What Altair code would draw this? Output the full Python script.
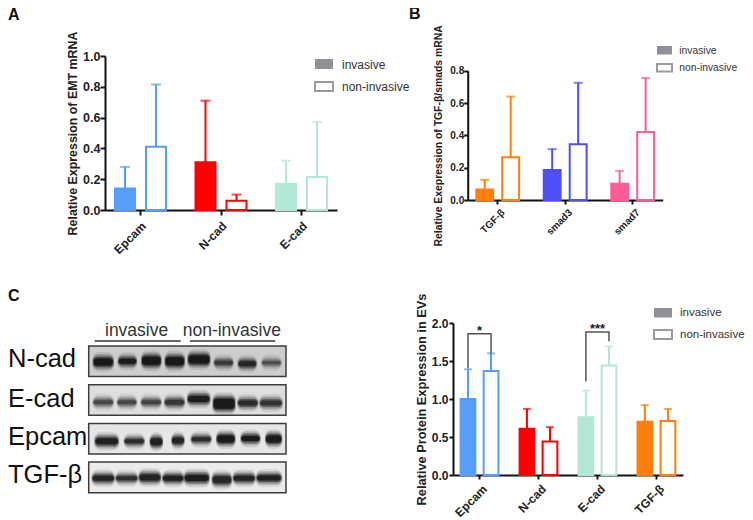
import altair as alt
import pandas as pd

FONT = "Liberation Sans"
W, H = 737, 512

# ---------- values ----------
GROUPS = ["invasive", "non-invasive"]

A_CATS = ["Epcam", "N-cad", "E-cad"]
A_COLORS = ["#559ffa", "#ff0000", "#b2e8d5"]
A_MEAN = [[0.14, 0.41], [0.31, 0.06], [0.17, 0.215]]
A_TOP = [[0.28, 0.815], [0.71, 0.10], [0.32, 0.57]]

B_CATS = ["TGF-β", "smad3", "smad7"]
B_COLORS = ["#ff7f0e", "#4f4ffa", "#ff5c98"]
B_MEAN = [[0.065, 0.265], [0.185, 0.345], [0.10, 0.42]]
B_TOP = [[0.125, 0.64], [0.315, 0.725], [0.18, 0.755]]

D_CATS = ["Epcam", "N-cad", "E-cad", "TGF-β"]
D_COLORS = ["#559ffa", "#ff0000", "#b2e8d5", "#ff7f0e"]
D_MEAN = [[1.0, 1.37], [0.61, 0.44], [0.76, 1.44], [0.70, 0.71]]
D_TOP = [[1.39, 1.60], [0.87, 0.63], [1.11, 1.69], [0.92, 0.87]]

BR1_Y = [1.40, 1.86, 1.86, 1.60]
BR2_Y = [1.23, 1.88, 1.88, 1.76]
BR_GROUP = ["invasive", "invasive", "non-invasive", "non-invasive"]

BLOT_NAMES = ["N-cad", "E-cad", "Epcam", "TGF-β"]
BLOT_BG = ["#cdcdcd", "#dedede", "#e6e6e6", "#ebebeb"]
BLOT_C = [
    [.59, 1.57, 2.54, 3.49, 4.47, 5.47, 6.43, 7.41],
    [.59, 1.55, 2.53, 3.48, 4.46, 5.49, 6.45, 7.39],
    [.73, 1.85, 2.74, 3.62, 4.56, 5.56, 6.56, 7.50],
    [.59, 1.54, 2.48, 3.42, 4.38, 5.40, 6.30, 7.31],
]
BLOT_W = [
    [.81, .74, .78, .78, .88, .77, .74, .78],
    [.81, .78, .81, .81, .90, .88, .81, .90],
    [.94, .81, .51, .51, .81, .74, .77, .65],
    [.89, .88, .88, .84, 1.0, .78, .88, 1.0],
]
BLOT_Y = [
    [.52, .50, .48, .50, .44, .55, .58, .55],
    [.57, .57, .57, .57, .47, .62, .60, .60],
    [.58, .58, .60, .56, .52, .51, .49, .51],
    [.53, .53, .50, .53, .52, .58, .53, .52],
]
BLOT_T = [
    [8, 6, 9, 9, 9, 5, 6, 4],
    [5, 5, 5, 6, 7, 11, 6, 6],
    [7, 5, 8, 7, 5, 8, 6, 8],
    [6, 5, 7, 6, 7, 8, 6, 6],
]
BLOT_D = [
    [1, .95, 1, 1, 1, .6, .8, .4],
    [.5, .5, .55, .65, .95, 1, .8, .7],
    [.95, .8, .9, .9, .8, 1, 1, 1],
    [.9, .8, .9, .95, 1, .85, .9, .95],
]


def px(v):
    return v - 8


def table(cats, colors, mean, top):
    rows = []
    for c, col, m, t in zip(cats, colors, mean, top):
        for i, g in enumerate(GROUPS):
            rows.append(dict(cat=c, group=g, mean=m[i], top=t[i], line=col,
                             fill=col if i == 0 else "#ffffff"))
    return pd.DataFrame(rows)


def bar_panel(df, cats, xr, yr, ymax, ystep, pi, bw, inner, outer, cap, title, lab, ttl,
              tpad, tick_size, lab_pad, x_lab, x_pad, x_off, extra=None):
    x0, x1 = px(xr[0]), px(xr[1])
    y0, y1 = px(yr[0]), px(yr[1])
    n = round(ymax / ystep)
    xs = alt.Scale(type="band", domain=cats, range=[x0, x1], paddingInner=pi, paddingOuter=0)
    os_ = alt.Scale(type="band", domain=GROUPS, range=[0, bw], paddingInner=inner, paddingOuter=outer)
    ys = alt.Scale(domain=[0, ymax], range=[y0, y1], nice=False, zero=True)
    xo = alt.XOffset("group:N", scale=os_)
    axis_x = alt.Axis(title=None, orient="bottom", offset=-(H - y0), labelAngle=-45,
                      labelFontSize=x_lab, labelFontWeight="bold", labelColor="#222222",
                      domainWidth=2, domainColor="#111111", tickWidth=2, tickColor="#111111",
                      tickSize=tick_size, labelPadding=x_pad, labelOffset=x_off, grid=False, labelOverlap=False)
    axis_y = alt.Axis(title=title, orient="left", offset=-x0, values=[round(i * ystep, 2) for i in range(n + 1)],
                      format=".1f", labelFontSize=lab, labelFontWeight="bold", labelColor="#222222",
                      titleFontSize=ttl, titleFontWeight="bold", titleColor="#222222", titlePadding=tpad,
                      domainWidth=2, domainColor="#111111", tickWidth=2, tickColor="#111111",
                      tickSize=tick_size, labelPadding=lab_pad, grid=False)
    base = alt.Chart(df)
    rule = base.mark_rule(strokeWidth=2).encode(
        x=alt.X("cat:N", scale=xs, axis=None), xOffset=xo,
        y=alt.Y("mean:Q", scale=ys, axis=None), y2="top:Q",
        color=alt.Color("line:N", scale=None))
    tick = base.mark_tick(size=cap, thickness=2).encode(
        x=alt.X("cat:N", scale=xs, axis=None), xOffset=xo,
        y=alt.Y("top:Q", scale=ys, axis=None),
        color=alt.Color("line:N", scale=None))
    bar = base.mark_bar(strokeWidth=2).encode(
        x=alt.X("cat:N", scale=xs, axis=axis_x), xOffset=xo,
        y=alt.Y("mean:Q", scale=ys, axis=axis_y),
        fill=alt.Fill("fill:N", scale=None),
        stroke=alt.Stroke("line:N", scale=None))
    layers = [rule, tick, bar]
    if extra:
        layers += extra(xs, xo, ys)
    return layers


def swatches(x0, x1, boxes):
    out = []
    for (a, b), filled in zip(boxes, [True, False]):
        out.append(alt.Chart(pd.DataFrame({"k": [0]})).mark_rect(
            fill="#90909a" if filled else "#ffffff", stroke="#9a9a9f", strokeWidth=0 if filled else 2
        ).encode(x=alt.value(px(x0)), x2=alt.value(px(x1)), y=alt.value(px(a)), y2=alt.value(px(b))))
    return out


def label(text, x, y, size, weight="normal", color="#333333", baseline="middle", align="left"):
    return alt.Chart(pd.DataFrame({"k": [0]})).mark_text(
        text=text, fontSize=size, fontWeight=weight, color=color, baseline=baseline, align=align
    ).encode(x=alt.value(max(px(x), 0)), y=alt.value(px(y)))


def brackets(xs, xo, ys):
    rows = []
    for cat, levels, key in (("Epcam", BR1_Y, "a"), ("E-cad", BR2_Y, "b")):
        for i, (g, v) in enumerate(zip(BR_GROUP, levels)):
            rows.append(dict(cat=cat, group=g, v=v, i=i, key=key))
    br = alt.Chart(pd.DataFrame(rows)).mark_line(color="#555555", strokeWidth=1.5).encode(
        x=alt.X("cat:N", scale=xs, axis=None), xOffset=xo,
        y=alt.Y("v:Q", scale=ys, axis=None), order="i:O", detail="key:N")
    stars = alt.Chart(pd.DataFrame({"cat": ["Epcam", "E-cad"], "v": [1.86, 1.88], "s": ["*", "***"]})).mark_text(
        fontSize=13, fontWeight="bold", color="#222222", baseline="alphabetic", dy=1
    ).encode(x=alt.X("cat:N", scale=xs, axis=None), y=alt.Y("v:Q", scale=ys, axis=None), text="s:N")
    return [br, stars]


panel_a = bar_panel(table(A_CATS, A_COLORS, A_MEAN, A_TOP), A_CATS, (105, 337), (210, 56), 1.0, 0.2,
                    0.118, 71, 0.355, 0.3225, 10, "Relative Expression of EMT mRNA", 12.5, 12.4, 3,
                    5, 0, 12, 5, 0)
panel_b = bar_panel(table(B_CATS, B_COLORS, B_MEAN, B_TOP), B_CATS, (467.7, 662.7), (200, 70.7), 0.8, 0.2,
                    0.11, 60, 0.35, 0.33, 9, "Relative Exepression of TGF-β/smads mRNA", 10, 10.4, 6,
                    4, 0, 10, 3, 2)
panel_d = bar_panel(table(D_CATS, D_COLORS, D_MEAN, D_TOP), D_CATS, (453, 683), (475, 323), 2.0, 0.5,
                    0.1, 53, 0.36, 0.33, 8, "Relative Protein Expression in EVs", 12, 12.8, 3,
                    4, 1, 12, 4, 2, extra=brackets)

# ---------- western blot ----------
frames, bands = [], []
for r, name in enumerate(BLOT_NAMES):
    frames.append(dict(r0=r, r1=r + 0.79, bg=BLOT_BG[r]))
    for c, w, y, t, d in zip(BLOT_C[r], BLOT_W[r], BLOT_Y[r], BLOT_T[r], BLOT_D[r]):
        yc = r + y * 0.79
        bands.append(dict(row=name, c=c, w=w, y=yc, t=t, d=d))
bands = pd.DataFrame(bands)
PITCH = 38.7
bx = alt.Scale(domain=[0, 8], range=[px(88.7), px(286)], nice=False, zero=False)
by = alt.Scale(domain=[0, 4], range=[px(346), px(346) + 4 * PITCH], nice=False, zero=False)


def band_layer(df, kw, extra_t, opacity, radius):
    d = df.copy()
    d["x1"] = d.c - d.w * kw / 2
    d["x2"] = d.c + d.w * kw / 2
    d["y1"] = d.y - (d.t + extra_t) / 2 / PITCH
    d["y2"] = d.y + (d.t + extra_t) / 2 / PITCH
    d["op"] = opacity(d.d)
    return alt.Chart(d).mark_rect(fill="#000000", cornerRadius=radius).encode(
        x=alt.X("x1:Q", scale=bx, axis=None), x2="x2:Q",
        y=alt.Y("y1:Q", scale=by, axis=None), y2="y2:Q",
        opacity=alt.Opacity("op:Q", scale=None))


frame_layer = alt.Chart(pd.DataFrame(frames)).mark_rect(stroke="#3c3c3c", strokeWidth=1.5).encode(
    x=alt.value(px(88.7)), x2=alt.value(px(286)),
    y=alt.Y("r0:Q", scale=by, axis=None), y2="r1:Q",
    fill=alt.Fill("bg:N", scale=None))
blot = [
    frame_layer,
    band_layer(bands, 1.10, 12, lambda s: 0.04 + 0.05 * s, 7),
    band_layer(bands, 1.08, 8, lambda s: 0.05 + 0.10 * s, 6),
    band_layer(bands, 1.05, 5, lambda s: 0.08 + 0.18 * s, 5),
    band_layer(bands, 1.01, 2, lambda s: 0.10 + 0.30 * s, 4),
    band_layer(bands, 0.96, -1, lambda s: 0.10 + 0.55 * s, 3),
]

rule_a = alt.Chart(pd.DataFrame({"k": [0]})).mark_rule(color="#333333", strokeWidth=1.5).encode(
    x=alt.value(px(94.7)), x2=alt.value(px(180.7)), y=alt.value(px(341)))
rule_b = alt.Chart(pd.DataFrame({"k": [0]})).mark_rule(color="#333333", strokeWidth=1.5).encode(
    x=alt.value(px(190)), x2=alt.value(px(275.3)), y=alt.value(px(341)))

annotations = [
    label("A", 4, 15, 16, "bold", "#111111"),
    label("B", 409, 14, 16, "bold", "#111111"),
    label("C", 4, 296, 16, "bold", "#111111"),
    label("invasive", 105, 331, 17.5),
    label("non-invasive", 182.7, 331, 17.5),
    rule_a, rule_b,
    label("N-cad", 8, 367, 25.5, color="#111111", baseline="alphabetic"),
    label("E-cad", 8, 406.7, 25.5, color="#111111", baseline="alphabetic"),
    label("Epcam", 8, 444.7, 25.5, color="#111111", baseline="alphabetic"),
    label("TGF-β", 8, 483.3, 25.5, color="#111111", baseline="alphabetic"),
    *swatches(315, 333, [(59, 69), (82, 91)]),
    label("invasive", 342, 64.5, 12),
    label("non-invasive", 342, 86.5, 12),
    *swatches(657, 672, [(46, 54.5), (64, 71.5)]),
    label("invasive", 679.3, 50.5, 10.3),
    label("non-invasive", 679.3, 68, 10.3),
    *swatches(654, 672, [(308, 317.5), (330, 339)]),
    label("invasive", 680, 313, 11.5),
    label("non-invasive", 680, 334.5, 11.5),
]

chart = alt.layer(*panel_a, *panel_b, *panel_d, *blot, *annotations).resolve_scale(
    x="independent", y="independent", xOffset="independent"
).properties(
    width=W, height=H, padding=0, autosize=alt.AutoSizeParams(type="none")
).configure_view(stroke=None).configure_axis(
    labelFont=FONT, titleFont=FONT
).configure_text(font=FONT)

chart.save("out.html", embed_options={"renderer": "svg", "actions": False})
